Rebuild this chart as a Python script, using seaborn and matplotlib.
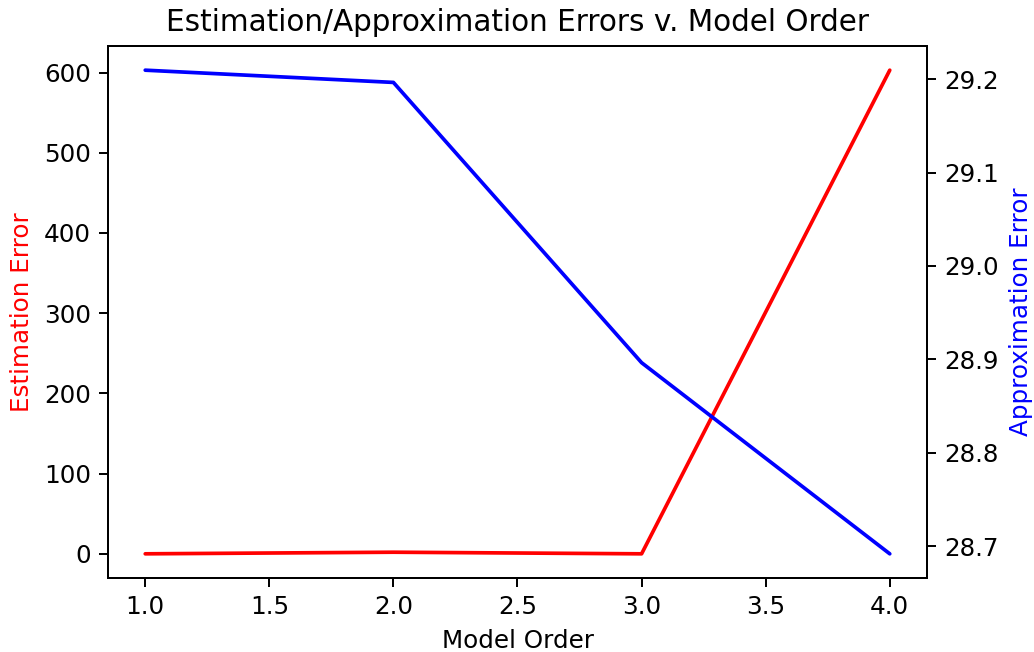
import matplotlib
matplotlib.use("Agg")
import matplotlib.pyplot as plt
import seaborn as sns
import pandas as pd

model_order = [1.0, 2.0, 3.0, 4.0]
estimation_error = [0.0, 2.0, 0.0, 603.0]
approximation_error = [29.2096, 29.1965, 28.8965, 28.6919]

sns.set_style("ticks")
plt.rcParams['font.family'] = ['DejaVu Sans']

df = pd.DataFrame({"order": model_order, "est": estimation_error, "approx": approximation_error})

dpi = 177
fig = plt.figure(figsize=(1034 / dpi, 652 / dpi), dpi=dpi)
ax = fig.add_axes([108 / 1034, 1 - 578 / 652, (927 - 108) / 1034, (578 - 46) / 652])
ax2 = ax.twinx()

sns.lineplot(data=df, x="order", y="est", ax=ax, color="red", linewidth=1.5)
sns.lineplot(data=df, x="order", y="approx", ax=ax2, color="blue", linewidth=1.5)

for a in (ax, ax2):
    a.tick_params(labelsize=10, colors="black", direction="out", length=3.5, width=0.8)
    for s in a.spines.values():
        s.set_visible(True)
        s.set_color("black")
        s.set_linewidth(0.8)

ax.set_xticks([1.0, 1.5, 2.0, 2.5, 3.0, 3.5, 4.0])
ax.set_xticklabels(["1.0", "1.5", "2.0", "2.5", "3.0", "3.5", "4.0"])
ax.set_yticks([0, 100, 200, 300, 400, 500, 600])
ax2.set_yticks([28.7, 28.8, 28.9, 29.0, 29.1, 29.2])
ax2.set_yticklabels(["28.7", "28.8", "28.9", "29.0", "29.1", "29.2"])

ax.set_xlabel("Model Order", fontsize=10, color="black")
ax.set_ylabel("Estimation Error", color="red", fontsize=10)
ax2.set_ylabel("Approximation Error", color="blue", fontsize=10)
ax.set_title("Estimation/Approximation Errors v. Model Order", fontsize=12, color="black")

fig.savefig("out.png", dpi=dpi)
